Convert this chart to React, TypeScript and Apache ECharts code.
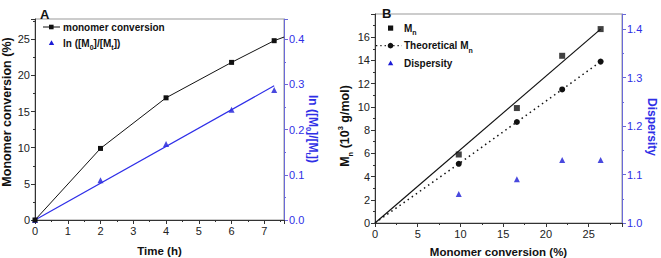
import React, { useEffect, useRef } from "react";
import * as echarts from "echarts";

// ---- Panel A data ----
const timeH = [0, 2, 4, 6, 7.3];
const conversionPct = [0, 9.9, 16.9, 21.8, 24.8];
const convTail = [7.6, 25.3];
const lnRatio = [0, 0.088, 0.168, 0.244, 0.288];
const lnFitTime = [0, 7.3];
const lnFitValue = [0, 0.297];

// ---- Panel B data ----
const convB = [9.8, 16.6, 21.9, 26.4];
const mnExp = [5.9, 9.9, 14.4, 16.7];
const mnTheo = [5.1, 8.7, 11.5, 13.9];
const dispersity = [1.06, 1.09, 1.13, 1.13];
const mnFitX = [0, 26.4];
const mnFitY = [0, 16.7];

const legendA = ["monomer conversion", "ln ([M{s|0}]/[M{s|t}])"];
const legendB = ["M{s|n}", "Theoretical M{s|n}", "Dispersity"];
const titleALeft = "Monomer conversion (%)";
const titleARight = "ln ([M{s|0}]/[M{s|t}])";
const titleBLeft = "M{s|n} (10{p|3} g/mol)";
const titleBRight = "Dispersity";

const FONT = "Liberation Sans";
const BLACK = "#111";
const BLUE = "#1c1cd6";
const AXBLUE = "#6a6ad8";
const LBLBLUE = "#2f2fe6";

function valAxis(o: any) {
  return {
    type: "value",
    gridIndex: o.grid,
    position: o.position,
    min: o.min,
    max: o.max,
    interval: o.interval,
    splitLine: { show: false },
    axisLine: { show: true, onZero: false, lineStyle: { color: o.lineColor || "#333", width: 1 } },
    axisTick: { show: true, inside: false, length: 4, lineStyle: { color: o.lineColor || "#333" } },
    minorTick: { show: true, splitNumber: 2, length: 2, lineStyle: { color: o.lineColor || "#333" } },
    axisLabel: {
      show: true,
      margin: 5,
      color: o.labelColor || "#222",
      fontFamily: FONT,
      fontSize: 11,
      showMaxLabel: false,
      formatter: o.formatter,
    },
    name: o.name,
    nameLocation: "middle",
    nameGap: o.nameGap,
    nameTextStyle: { fontFamily: FONT, fontWeight: "bold", fontSize: 11.5, color: BLACK },
  };
}

const subRich = {
  s: { fontFamily: FONT, fontWeight: "bold", fontSize: 7, verticalAlign: "bottom", padding: [0, 0, -3, 0] },
};

function legText(x: number, y: number, text: string) {
  return {
    type: "text",
    x,
    y,
    style: {
      text,
      fontFamily: FONT,
      fontWeight: "bold",
      fontSize: 10,
      fill: BLACK,
      verticalAlign: "middle",
      align: "left",
      rich: subRich,
    },
  };
}

function vTitle(x: number, y: number, text: string, rot: number, color: string, size: number) {
  return {
    type: "text",
    x,
    y,
    rotation: rot,
    style: {
      text,
      fontFamily: FONT,
      fontWeight: "bold",
      fontSize: size,
      fill: color,
      align: "center",
      verticalAlign: "middle",
      rich: {
        s: { fontFamily: FONT, fontWeight: "bold", fontSize: 7.5, fill: color, verticalAlign: "bottom", padding: [0, 0, -3, 0] },
        p: { fontFamily: FONT, fontWeight: "bold", fontSize: 7.5, fill: color, verticalAlign: "top", padding: [-2, 0, 0, 0] },
      },
    },
  };
}

function tri(cx: number, cy: number, color: string) {
  return {
    type: "polygon",
    shape: { points: [[cx, cy - 2.7], [cx + 2.7, cy + 2], [cx - 2.7, cy + 2]] },
    style: { fill: color },
  };
}

export default function App() {
  const ref = useRef<HTMLDivElement>(null);
  useEffect(() => {
    document.body.style.margin = "0";
    const chart = echarts.init(ref.current!, null, { renderer: "svg" });
    const option: any = {
      animation: false,
      backgroundColor: "#fff",
      textStyle: { fontFamily: FONT },
      title: [
        { text: "A", left: 35, top: 3, textStyle: { fontFamily: FONT, fontWeight: "bold", fontSize: 13, color: BLACK } },
        { text: "B", left: 377, top: 2, textStyle: { fontFamily: FONT, fontWeight: "bold", fontSize: 13, color: BLACK } },
      ],
      grid: [
        { left: 35, top: 19, width: 249, height: 201, show: true, borderColor: "#999", borderWidth: 1, backgroundColor: "transparent", containLabel: false, outerBoundsMode: "none" },
        { left: 375, top: 14, width: 247, height: 209, show: true, borderColor: "#999", borderWidth: 1, backgroundColor: "transparent", containLabel: false, outerBoundsMode: "none" },
      ],
      xAxis: [
        valAxis({ grid: 0, position: "bottom", min: 0, max: 7.6, interval: 1, name: "Time (h)", nameGap: 25 }),
        valAxis({ grid: 1, position: "bottom", min: 0, max: 28.9, interval: 5, name: "Monomer conversion (%)", nameGap: 23 }),
      ],
      yAxis: [
        valAxis({ grid: 0, position: "left", min: 0, max: 27.8, interval: 5 }),
        valAxis({
          grid: 0, position: "right", min: 0, max: 0.445, interval: 0.1, lineColor: AXBLUE, labelColor: LBLBLUE,
          formatter: (v: number) => v.toFixed(1),
        }),
        valAxis({ grid: 1, position: "left", min: 0, max: 18, interval: 2 }),
        valAxis({
          grid: 1, position: "right", min: 1.0, max: 1.431, interval: 0.1, lineColor: AXBLUE, labelColor: LBLBLUE,
          formatter: (v: number) => v.toFixed(1),
        }),
      ],
      graphic: [
        // axis titles (rotated)
        vTitle(7, 112, titleALeft, Math.PI / 2, BLACK, 12.5),
        vTitle(313, 129, titleARight, -Math.PI / 2, LBLBLUE, 12),
        vTitle(345, 126, titleBLeft, Math.PI / 2, BLACK, 12.5),
        vTitle(652, 127, titleBRight, -Math.PI / 2, LBLBLUE, 12),
        // legend A
        { type: "line", shape: { x1: 43, y1: 27, x2: 60, y2: 27 }, style: { stroke: BLACK, lineWidth: 1 } },
        { type: "rect", shape: { x: 49, y: 24.7, width: 4.6, height: 4.6 }, style: { fill: BLACK } },
        legText(63, 27, legendA[0]),
        tri(51.5, 43, BLUE),
        legText(63, 43, legendA[1]),
        // legend B
        { type: "rect", shape: { x: 388, y: 25.5, width: 5.2, height: 5.2 }, style: { fill: BLACK } },
        legText(404, 28.3, legendB[0]),
        { type: "line", shape: { x1: 376, y1: 45.7, x2: 402, y2: 45.7 }, style: { stroke: BLACK, lineWidth: 1.3, lineDash: [1.3, 3] } },
        { type: "circle", shape: { cx: 390.5, cy: 45.7, r: 2.8 }, style: { fill: BLACK } },
        legText(404, 45.7, legendB[1]),
        tri(390.6, 63.3, BLUE),
        legText(404, 63.3, legendB[2]),
      ],
      series: [
        {
          name: "conv", type: "line", xAxisIndex: 0, yAxisIndex: 0,
          data: [...timeH.map((t, i) => [t, conversionPct[i]]), { value: convTail, symbol: "none" }],
          symbol: "rect", symbolSize: 5, lineStyle: { color: BLACK, width: 1 }, itemStyle: { color: BLACK },
        },
        {
          name: "ln", type: "scatter", xAxisIndex: 0, yAxisIndex: 1,
          data: timeH.map((t, i) => [t, lnRatio[i]]),
          symbol: "triangle", symbolSize: 6, itemStyle: { color: BLUE },
        },
        {
          name: "lnfit", type: "line", xAxisIndex: 0, yAxisIndex: 1,
          data: lnFitTime.map((t, i) => [t, lnFitValue[i]]),
          symbol: "none", lineStyle: { color: "#2e2ee8", width: 1.2 },
        },
        {
          name: "mnfit", type: "line", xAxisIndex: 1, yAxisIndex: 2,
          data: mnFitX.map((x, i) => [x, mnFitY[i]]),
          symbol: "none", lineStyle: { color: BLACK, width: 1.2 },
        },
        {
          name: "mn", type: "scatter", xAxisIndex: 1, yAxisIndex: 2,
          data: convB.map((x, i) => [x, mnExp[i]]),
          symbol: "rect", symbolSize: 6, itemStyle: { color: BLACK },
        },
        {
          name: "theo", type: "line", xAxisIndex: 1, yAxisIndex: 2,
          data: [{ value: [0, 0], symbol: "none" }, ...convB.map((x, i) => [x, mnTheo[i]])],
          symbol: "circle", symbolSize: 6, itemStyle: { color: BLACK },
          lineStyle: { color: BLACK, width: 1.5, type: [1.5, 3.5] },
        },
        {
          name: "disp", type: "scatter", xAxisIndex: 1, yAxisIndex: 3,
          data: convB.map((x, i) => [x, dispersity[i]]),
          symbol: "triangle", symbolSize: 6, itemStyle: { color: BLUE },
        },
      ],
    };
    chart.setOption(option);
    return () => chart.dispose();
  }, []);
  return <div ref={ref} style={{ position: "absolute", left: 0, top: 0, width: 661, height: 258 }} />;
}
